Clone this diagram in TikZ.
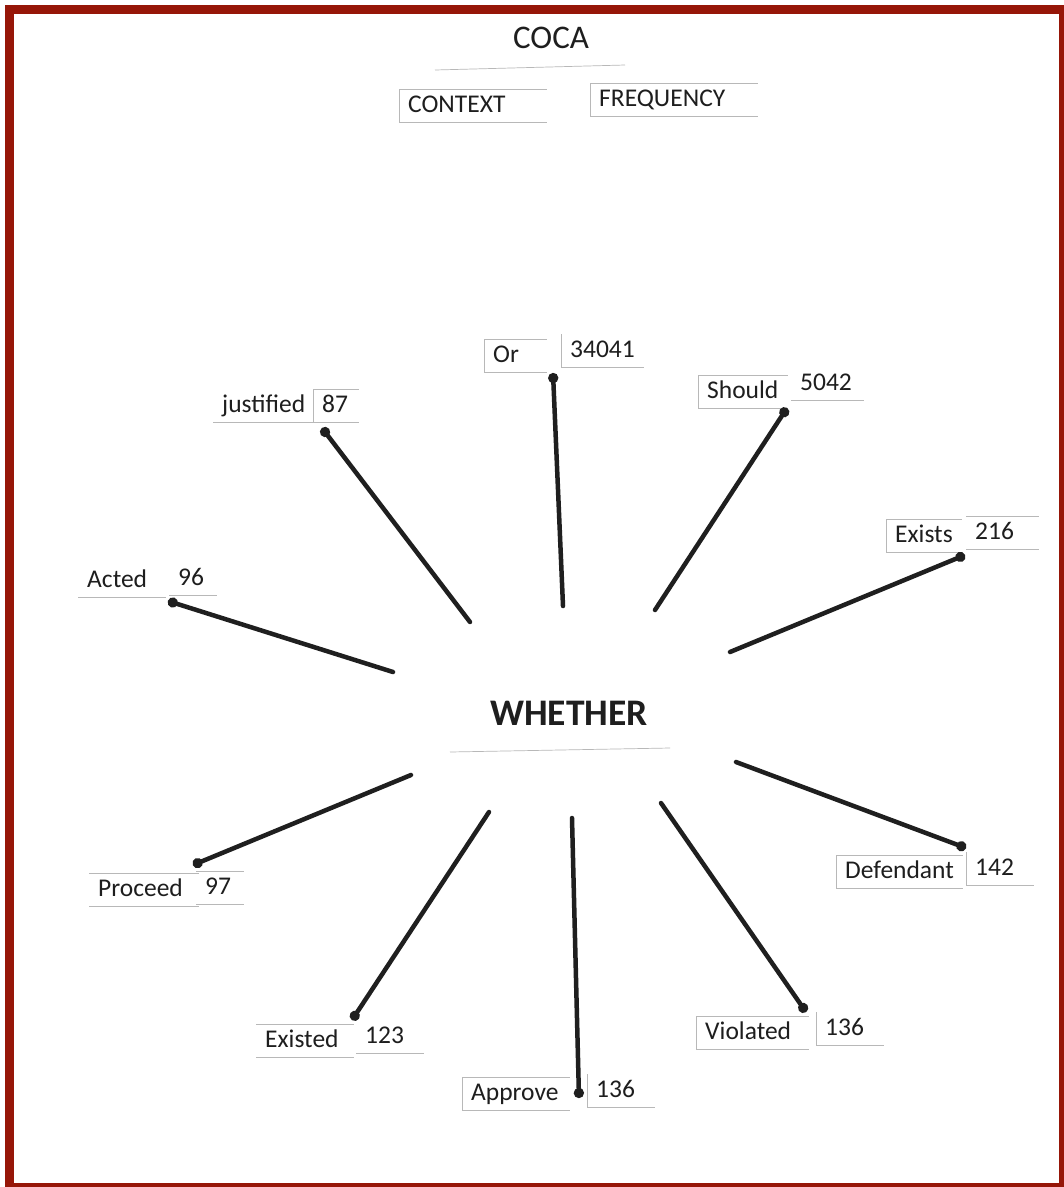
\documentclass[tikz,border=0pt]{standalone}
\usepackage{fontspec}
\setmainfont{Carlito}
\usetikzlibrary{arrows.meta}
\definecolor{framered}{RGB}{150,22,8}
\definecolor{ink}{RGB}{30,30,30}
\begin{document}
\begin{tikzpicture}[x=1pt,y=-1pt,
  lab/.style={font=\fontsize{25.5}{30}\selectfont, text=ink, inner xsep=9pt, inner ysep=0pt,
              text height=18pt, text depth=6pt, minimum height=33pt, anchor=base west, align=left},
  title/.style={font=\fontsize{33}{38}\selectfont, text=ink, anchor=base},
  hub/.style={font=\bfseries\fontsize{37.5}{42}\selectfont, text=ink, anchor=base west, inner sep=0pt},
  spoke/.style={line width=4.5pt, draw=black!88, line cap=round, -{Circle[length=10pt,width=10pt]}},
  paper/.style={draw=black!28, line width=0.7pt}]
\useasboundingbox (0,0) rectangle (1064,1187);
\fill[white] (0,0) rectangle (1064,1187);
\draw[framered, line width=9pt] (9,9) rectangle (1063,1187);

% header
\node[title] (coca) at (551,48) {COCA};
\draw[paper] (435,70) -- (625,65);
\node[lab, text width=130pt] (ctx) at (399,112) {CONTEXT};
\node[lab, text width=150pt] (frq) at (590,106) {FREQUENCY};

% hub
\node[hub] (wh) at (490,725) {WHETHER};
\draw[paper] (450,752) -- (670,748);

% labels
\node[lab] (jus) at (213,412) {justified};
\node[lab, text width=28pt] (n87) at (313,412) {87};
\node[lab, text width=45pt] (or) at (484,362) {Or};
\node[lab] (n34041) at (561,357) {34041};
\node[lab] (sho) at (698,398) {Should};
\node[lab, text width=55pt] (n5042) at (791,390) {5042};
\node[lab] (exi) at (886,542) {Exists};
\node[lab, text width=55pt] (n216) at (966,539) {216};
\node[lab, text width=70pt] (act) at (78,587) {Acted};
\node[lab, text width=30pt] (n96) at (169,585) {96};
\node[lab, text width=92pt] (pro) at (89,896) {Proceed};
\node[lab, text width=30pt] (n97) at (196,894) {97};
\node[lab] (def) at (836,878) {Defendant};
\node[lab, text width=50pt] (n142) at (966,875) {142};
\node[lab, text width=80pt] (exd) at (256,1047) {Existed};
\node[lab, text width=50pt] (n123) at (356,1043) {123};
\node[lab, text width=90pt] (app) at (462,1100) {Approve};
\node[lab, text width=50pt] (n136a) at (587,1097) {136};
\node[lab, text width=95pt] (vio) at (696,1039) {Violated};
\node[lab, text width=50pt] (n136b) at (816,1035) {136};

% paper edges
\foreach \n in {ctx,frq,jus,n87,or,n34041,sho,n5042,exi,n216,act,n96,pro,n97,def,n142,exd,n123,app,n136a,vio,n136b}
  \draw[paper] (\n.south west) -- (\n.south east);
\foreach \n in {ctx,frq,n87,or,sho,exi,n216,pro,n97,def,exd,app,vio}
  \draw[paper] (\n.north west) -- (\n.north east);
\foreach \n in {ctx,frq,n87,or,n34041,sho,exi,def,n142,app,n136a,vio,n136b}
  \draw[paper] (\n.north west) -- (\n.south west);

% spoke end points
\coordinate (jusI) at (470,622);  \coordinate (jusO) at (322,428);
\coordinate (orI)  at (563,606);  \coordinate (orO)  at (553,373);
\coordinate (shoI) at (655,610);  \coordinate (shoO) at (787,408);
\coordinate (exiI) at (730,652);  \coordinate (exiO) at (965,555);
\coordinate (actI) at (393,672);  \coordinate (actO) at (168,601);
\coordinate (proI) at (411,775);  \coordinate (proO) at (193,865);
\coordinate (exdI) at (489,812);  \coordinate (exdO) at (352,1020);
\coordinate (appI) at (572,818);  \coordinate (appO) at (579,1098);
\coordinate (vioI) at (661,803);  \coordinate (vioO) at (806,1012);
\coordinate (defI) at (736,762);  \coordinate (defO) at (966,848);

\foreach \s in {jus,or,sho,exi,act,pro,exd,app,vio,def}
  \draw[spoke] (\s I) -- (\s O);
\end{tikzpicture}
\end{document}
